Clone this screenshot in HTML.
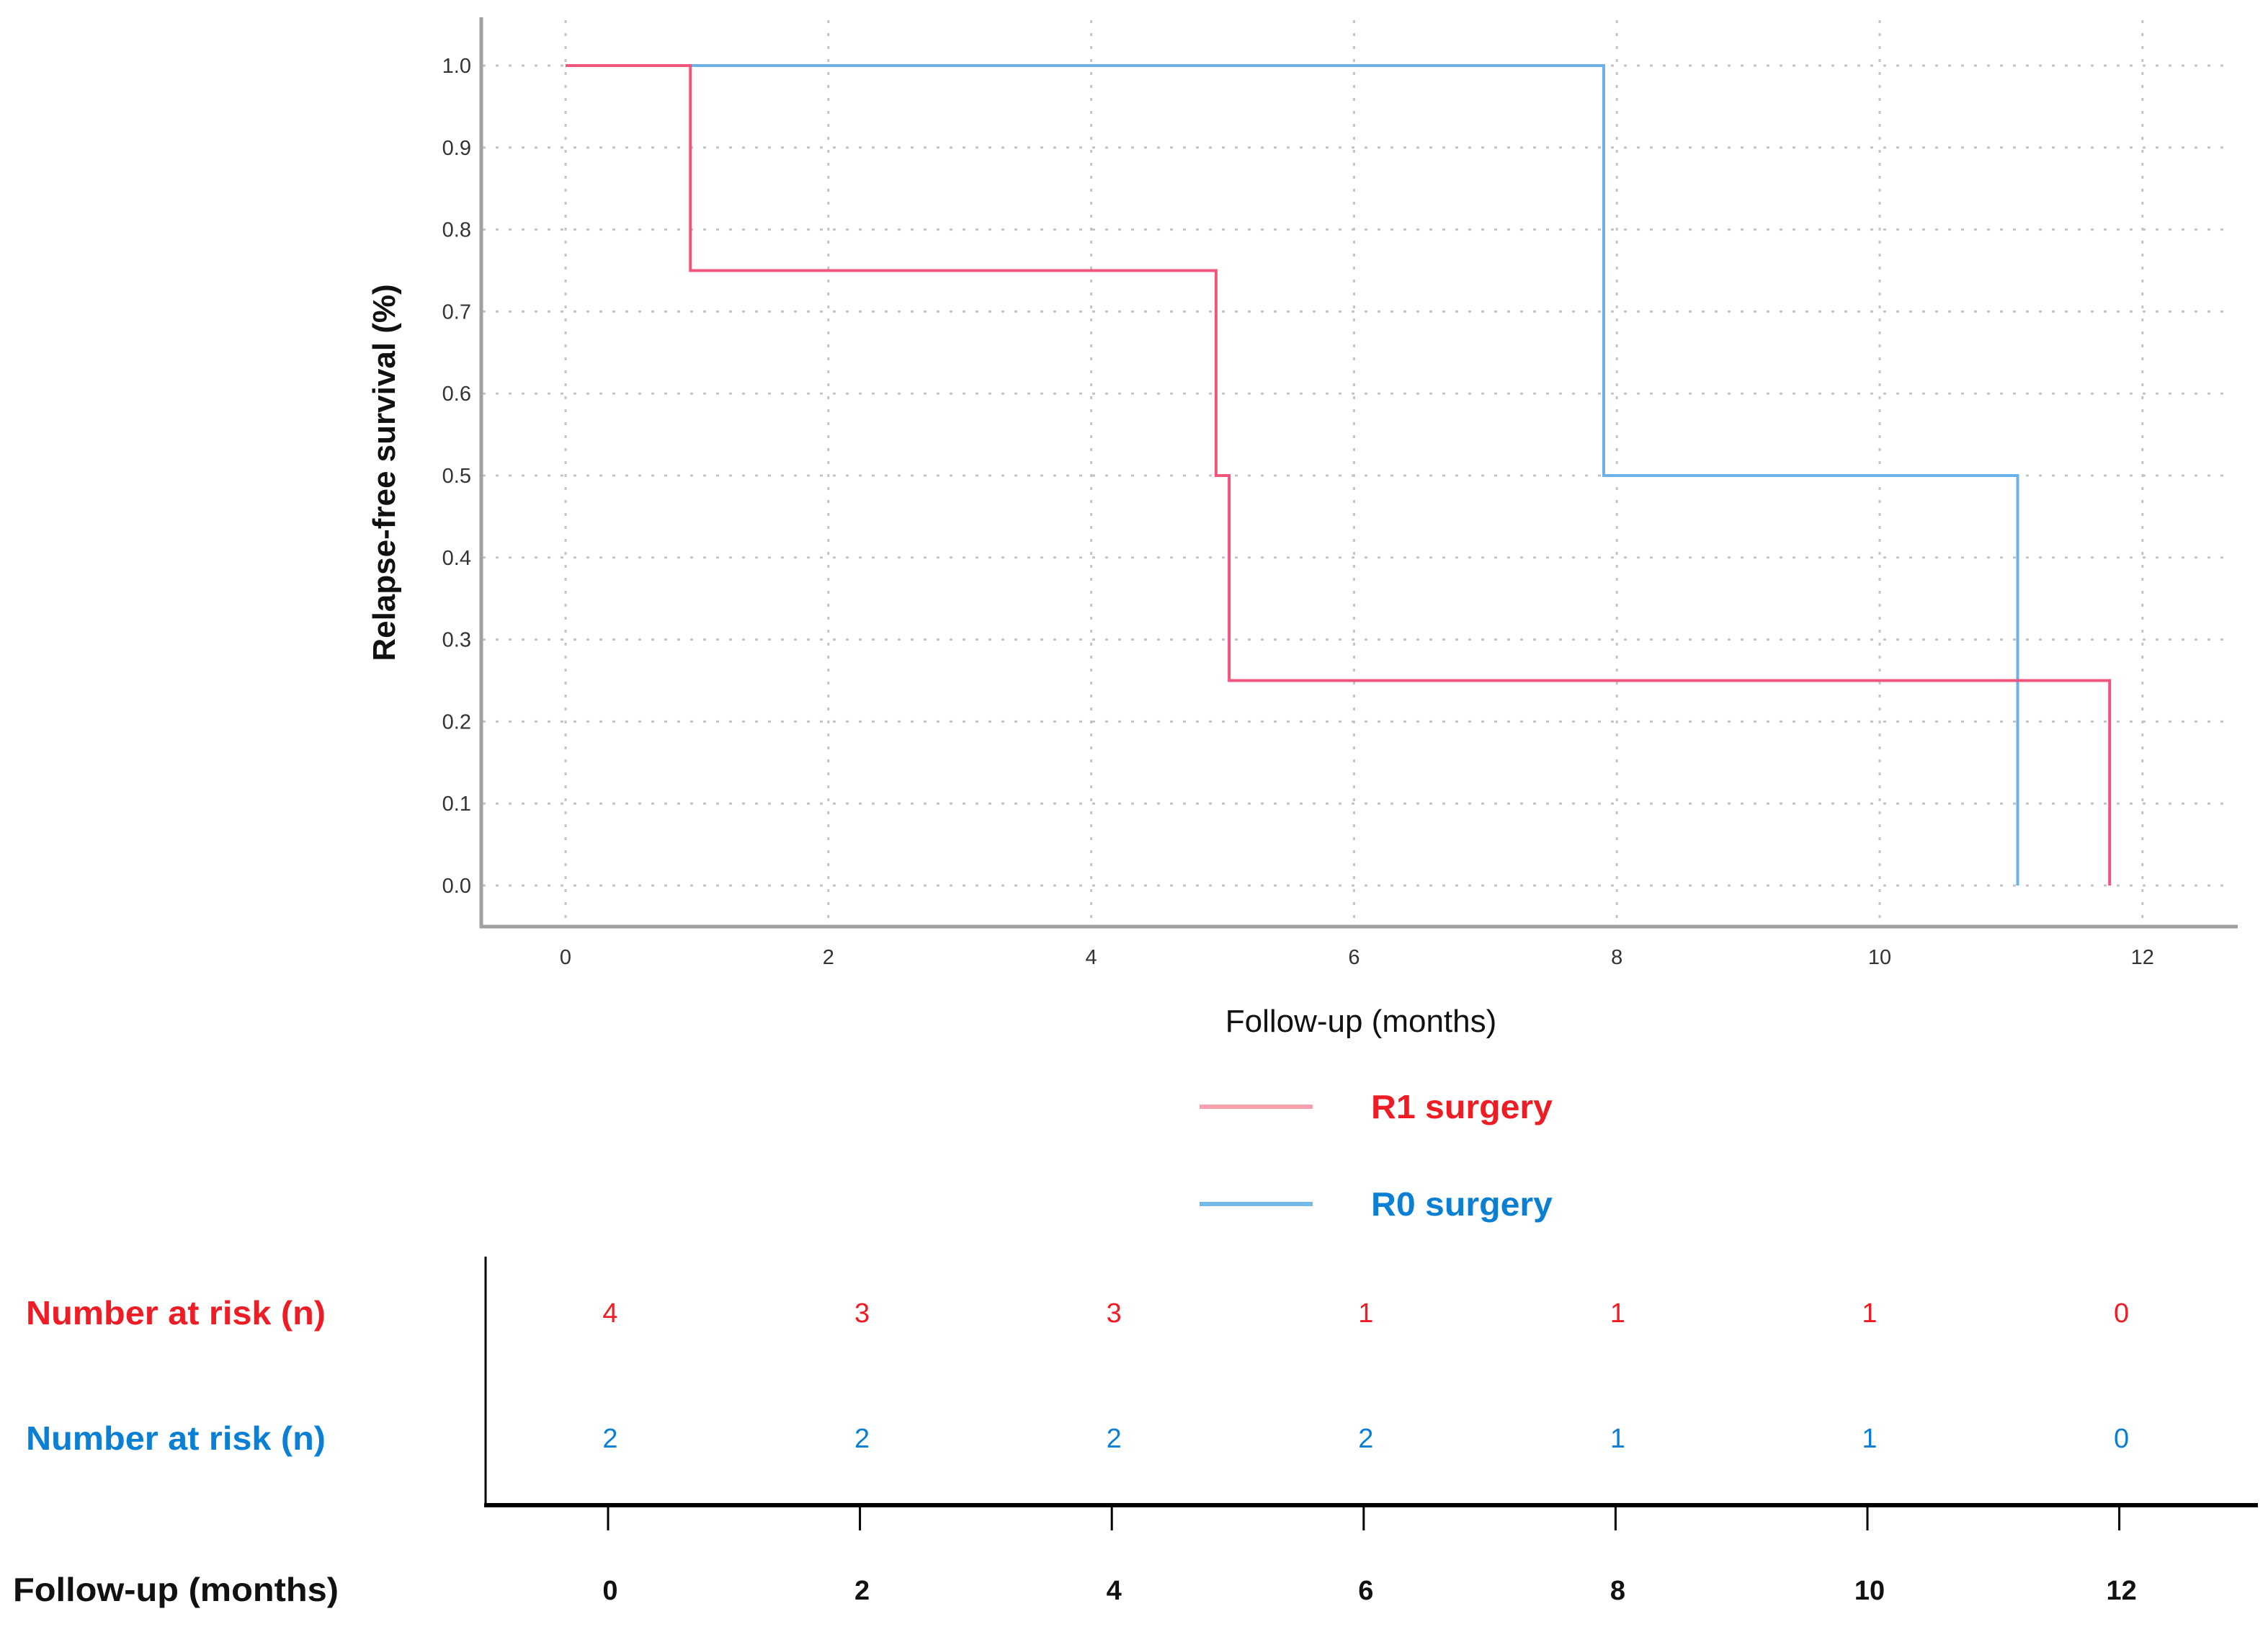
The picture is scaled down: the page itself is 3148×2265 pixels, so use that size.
<!DOCTYPE html>
<html><head><meta charset="utf-8"><style>body{margin:0;background:#fff}svg{display:block}</style></head>
<body>
<svg id="c" width="3148" height="2265" xmlns="http://www.w3.org/2000/svg" font-family="Liberation Sans, sans-serif"></svg>
<script>
const xTicks=[0,2,4,6,8,10,12];
const yTicks=[0,0.1,0.2,0.3,0.4,0.5,0.6,0.7,0.8,0.9,1.0];
const r1Times=[0,0.95,4.95,5.05,11.75];
const r1Surv=[1,0.75,0.5,0.25,0];
const r0Times=[0,7.9,11.05];
const r0Surv=[1,0.5,0];
const riskTimes=[0,2,4,6,8,10,12];
const riskR1=[4,3,3,1,1,1,0];
const riskR0=[2,2,2,2,1,1,0];
const NS='http://www.w3.org/2000/svg';
const svg=document.getElementById('c');
const X=t=>785+t*182.4, Y=v=>1229-v*1138;
const RX=t=>844+t*174.8;
function mk(tag,attrs,parent){const e=document.createElementNS(NS,tag);for(const k in attrs)e.setAttribute(k,attrs[k]);(parent||svg).appendChild(e);return e;}
function txt(s,attrs){const e=mk('text',attrs);e.textContent=s;return e;}
yTicks.forEach(v=>{const l=mk('line',{x1:670,x2:3100,y1:Y(v),y2:Y(v),stroke:'#c4c4c4','stroke-width':3,'stroke-dasharray':'4 14'});


const t=txt(v.toFixed(1),{x:654,y:Y(v)+10,'text-anchor':'end','font-size':29,fill:'#333'});

});
xTicks.forEach(v=>{const l=mk('line',{x1:X(v),x2:X(v),y1:28,y2:1282,stroke:'#c4c4c4','stroke-width':3,'stroke-dasharray':'4 14'});


const t=txt(String(v),{x:X(v),y:1338,'text-anchor':'middle','font-size':29,fill:'#333'});

});
let a=mk('path',{d:'M668 24 V1286 H3106',fill:'none',stroke:'#a0a0a0','stroke-width':5});


function step(ts,ss,color,name){let d=`M${X(ts[0])} ${Y(ss[0])}`;for(let i=1;i<ts.length;i++){d+=` H${X(ts[i])} V${Y(ss[i])}`;}
const p=mk('path',{d:d,fill:'none',stroke:color,'stroke-width':4});

}
step(r0Times,r0Surv,'#6cb2ea','r0-curve');
step(r1Times,r1Surv,'#f0557c','r1-curve');
let t=txt('Relapse-free survival (%)',{x:0,y:0,'font-size':44,'font-weight':'bold',fill:'#111','text-anchor':'middle',transform:'translate(548,656) rotate(-90)'});


t=txt('Follow-up (months)',{x:1889,y:1432,'font-size':44,fill:'#111','text-anchor':'middle'});


let l=mk('line',{x1:1665,x2:1822,y1:1536,y2:1536,stroke:'#f7a0ac','stroke-width':6});


t=txt('R1 surgery',{x:1903,y:1552,'font-size':46,'font-weight':'bold',fill:'#ee1c24',textLength:252,lengthAdjust:'spacingAndGlyphs'});


l=mk('line',{x1:1665,x2:1822,y1:1671,y2:1671,stroke:'#74b9ea','stroke-width':6});


t=txt('R0 surgery',{x:1903,y:1687,'font-size':46,'font-weight':'bold',fill:'#0a7fd4',textLength:252,lengthAdjust:'spacingAndGlyphs'});


l=mk('line',{x1:674,x2:674,y1:1744,y2:2089,stroke:'#000','stroke-width':3});


l=mk('line',{x1:672,x2:3134,y1:2089,y2:2089,stroke:'#000','stroke-width':6});


t=txt('Number at risk (n)',{x:36,y:1838,'font-size':46,'font-weight':'bold',fill:'#ee1c24',textLength:416,lengthAdjust:'spacingAndGlyphs'});


t=txt('Number at risk (n)',{x:36,y:2012,'font-size':46,'font-weight':'bold',fill:'#0a7fd4',textLength:416,lengthAdjust:'spacingAndGlyphs'});


t=txt('Follow-up (months)',{x:18,y:2222,'font-size':46,'font-weight':'bold',fill:'#111',textLength:452,lengthAdjust:'spacingAndGlyphs'});


riskTimes.forEach((tm,i)=>{
 const k=mk('line',{x1:RX(tm),x2:RX(tm),y1:2089,y2:2124,stroke:'#000','stroke-width':3});
 
 
 let a1=txt(String(riskR1[i]),{x:RX(tm)+3,y:1835,'font-size':38,fill:'#ee1c24','text-anchor':'middle'});
 
 
 let a2=txt(String(riskR0[i]),{x:RX(tm)+3,y:2009,'font-size':38,fill:'#0a7fd4','text-anchor':'middle'});
 
 
 let a3=txt(String(tm),{x:RX(tm)+3,y:2220,'font-size':38,'font-weight':'bold',fill:'#111','text-anchor':'middle'});
 
 
});
</script>
</body></html>
